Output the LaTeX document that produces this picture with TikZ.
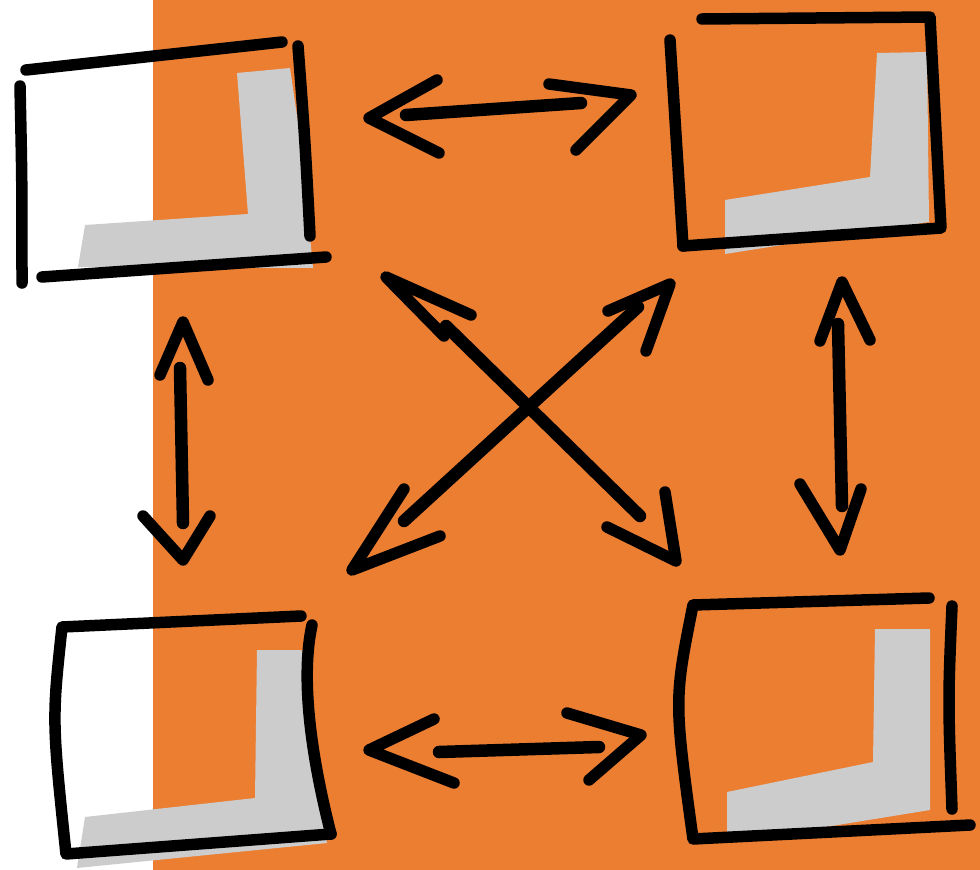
\documentclass[tikz,border=0pt]{standalone}
\usetikzlibrary{calc}
\definecolor{bgorange}{RGB}{236,126,50}
\definecolor{shade}{RGB}{204,204,204}
\tikzset{
  ink/.style={draw=black,line width=11.5pt,line cap=round,line join=round},
  shaft/.style={ink,line width=12.5pt},
  shadow/.style={fill=shade,draw=none}
}
\begin{document}
\begin{tikzpicture}[x=1pt,y=-1pt]
\useasboundingbox (0,0) rectangle (980,870);
\fill[white] (0,0) rectangle (980,870);
\fill[bgorange] (153,0) rectangle (980,870);

% ---------- box centres (names) ----------
\coordinate (boxTL) at (165,160);
\coordinate (boxTR) at (805,133);
\coordinate (boxBL) at (195,740);
\coordinate (boxBR) at (825,720);

% ---------- gray L shadows ----------
\fill[shadow] (237,73) -- (290,68) -- (302,150) -- (313,268) -- (78,267) -- (85,225) -- (248,214) -- cycle;
\fill[shadow] (877,53) -- (927,52) -- (929,222) -- (725,254) -- (725,200) -- (870,177) -- cycle;
\fill[shadow] (257,650) -- (302,650) -- (305,720) -- (327,843) -- (77,868) -- (85,817) -- (255,798) -- cycle;
\fill[shadow] (875,629) -- (930,629) -- (930,810) -- (727,843) -- (727,792) -- (873,762) -- cycle;

% ---------- box 1 (top left) ----------
\draw[ink] (26,70) -- (282,42);
\draw[ink] (20,86) .. controls (22,180) .. (22,283);
\draw[ink] (298,46) .. controls (305,140) .. (310,236);
\draw[ink] (42,277) -- (326,257);

% ---------- box 2 (top right) ----------
\draw[ink] (702,19) -- (930,17) -- (941,228) -- (683,246);
\draw[ink] (670,40) -- (683,246);

% ---------- box 3 (bottom left) ----------
\draw[ink] (301,616) -- (62,627) .. controls (52,720) .. (66,854) -- (331,834);
\draw[ink] (312,625) .. controls (300,680) and (312,760) .. (331,834);

% ---------- box 4 (bottom right) ----------
\draw[ink] (929,598) -- (693,605) .. controls (674,700) .. (693,839) -- (970,825);
\draw[ink] (952,606) .. controls (948,700) .. (952,809);

% ---------- top horizontal arrow ----------
\coordinate (h1L) at (369,118);
\coordinate (h1R) at (631,95);
\coordinate (h1a) at (406,115);
\coordinate (h1b) at (581,103);
\draw[shaft] (h1a) -- (h1b);
\draw[ink] (437,80) -- (h1L) -- (439,153);
\draw[ink] (549,84) -- (h1R) -- (576,150);

% ---------- bottom horizontal arrow ----------
\coordinate (h2L) at (369,750);
\coordinate (h2R) at (641,735);
\coordinate (h2a) at (439,752);
\coordinate (h2b) at (599,747);
\draw[shaft] (h2a) -- (h2b);
\draw[ink] (434,719) -- (h2L) -- (454,783);
\draw[ink] (567,713) -- (h2R) -- (589,780);

% ---------- left vertical arrow ----------
\coordinate (v1T) at (183,322);
\coordinate (v1B) at (183,560);
\coordinate (v1a) at (180,368);
\coordinate (v1b) at (183,523);
\draw[shaft] (v1a) -- (v1b);
\draw[ink] (160,375) -- (v1T) -- (208,380);
\draw[ink] (143,516) -- (v1B) -- (210,516);

% ---------- right vertical arrow ----------
\coordinate (v2T) at (842,282);
\coordinate (v2B) at (840,550);
\coordinate (v2a) at (838,324);
\coordinate (v2b) at (842,506);
\draw[shaft] (v2a) -- (v2b);
\draw[ink] (820,341) -- (v2T) -- (870,340);
\draw[ink] (800,484) -- (v2B) -- (861,489);

% ---------- diagonal NW-SE ----------
\coordinate (dNW) at (386,277);
\coordinate (dSE) at (676,561);
\coordinate (d1a) at (446,326);
\coordinate (d1b) at (640,516);
\draw[shaft] (d1a) -- (d1b);
\draw[ink] (471,315) -- (dNW) -- (444,336);
\draw[ink] (665,492) -- (dSE) -- (607,527);

% ---------- diagonal SW-NE ----------
\coordinate (dNE) at (670,284);
\coordinate (dSW) at (352,570);
\coordinate (d2a) at (404,521);
\coordinate (d2b) at (638,307);
\draw[shaft] (d2a) -- (d2b);
\draw[ink] (608,311) -- (dNE) -- (646,351);
\draw[ink] (404,489) -- (dSW) -- (440,536);
\end{tikzpicture}
\end{document}
